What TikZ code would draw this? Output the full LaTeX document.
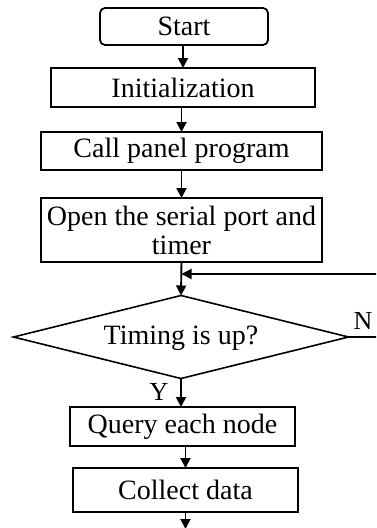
\documentclass[tikz,border=0pt]{standalone}
\usepackage{fontspec}
\setmainfont{Liberation Serif}
\usetikzlibrary{arrows.meta,shapes.geometric}
\begin{document}
\begin{tikzpicture}[x=1pt,y=1pt,
  every node/.style={font=\fontsize{28}{29}\selectfont, inner sep=0pt, outer sep=0pt},
  box/.style={draw, line width=1.8pt, rectangle, align=center},
  arr/.style={line width=1.9pt, -{Triangle[length=10pt,width=10pt]}},
  lbl/.style={font=\fontsize{26}{27}\selectfont}]
\useasboundingbox (0,0) rectangle (376,-528);
\clip (0,0) rectangle (376,-528);
\node[box, rounded corners=5pt, minimum width=168pt, minimum height=37pt] (start) at (184,-26.5) {Start};
\node[box, minimum width=264pt, minimum height=39pt] (init) at (183,-87.5) {Initialization};
\node[box, minimum width=281pt, minimum height=38pt] (call) at (181.5,-151) {Call panel program};
\node[box, minimum width=281pt, minimum height=64pt] (open) at (181.5,-230) {Open the serial port and\\timer};
\node[draw, line width=1.6pt, diamond, minimum width=335pt, minimum height=83pt] (dec) at (181,-337) {};
\node (dectext) at (181,-338) {Timing is up?};
\node[box, minimum width=225pt, minimum height=39pt] (query) at (182.5,-426.5) {Query each node};
\node[box, minimum width=225pt, minimum height=44pt] (collect) at (185.5,-490) {Collect data};
\node[lbl] (nlab) at (363,-321) {N};
\node[lbl] (ylab) at (159,-392) {Y};
\coordinate (r1) at (395,-337);
\coordinate (r2) at (395,-274);
\coordinate (endc) at (185.5,-529);
\draw[arr] (init.north |- start.south) -- (init.north);
\draw[arr] (call.north |- init.south) -- (call.north);
\draw[arr] (call.south) -- (open.north);
\draw[arr] (open.south) -- (dec.north);
\draw[arr] (dec.south) -- (dec.south |- query.north);
\draw[arr] (query.south -| collect.north) -- (collect.north);
\draw[arr] (collect.south) -- (endc);
\draw[arr] (dec.east) -- (r1) -- (r2) -- (r2 -| open.south);
\end{tikzpicture}
\end{document}
